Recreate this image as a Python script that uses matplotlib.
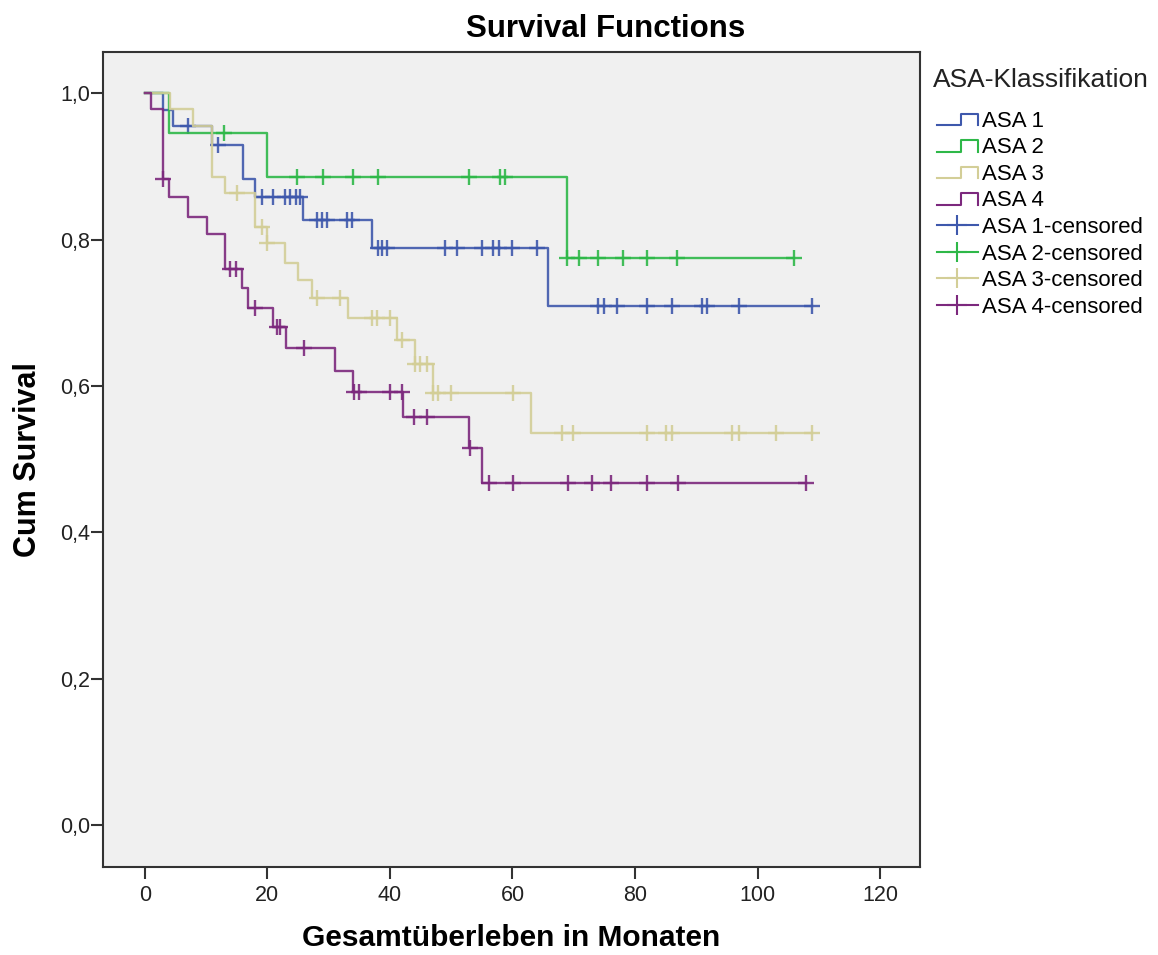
import numpy as np
import matplotlib
matplotlib.use("Agg")
import matplotlib.pyplot as plt
from matplotlib.lines import Line2D
from matplotlib.legend_handler import HandlerBase

plt.rcParams['font.family'] = ['Liberation Sans', 'DejaVu Sans']

groups = ['ASA 1', 'ASA 2', 'ASA 3', 'ASA 4']
colors = ['#3E58AC', '#2EB848', '#D3CE97', '#7C287D']

# event times (months) and survival level after each event
asa1_times = [3.0, 4.6, 11.0, 16.1, 18.0, 25.9, 37.0, 65.8]
asa1_surv = [0.977, 0.955, 0.929, 0.882, 0.858, 0.827, 0.789, 0.709]
asa1_cens = [7.1, 12.0, 19.2, 21.0, 22.9, 23.7, 24.6, 25.4, 28.1, 29.0, 29.8,
             33.0, 33.8, 38.0, 38.7, 39.6, 49.0, 51.0, 55.1, 56.8, 57.8, 59.9,
             64.0, 73.9, 74.9, 77.1, 82.0, 86.0, 90.9, 91.8, 97.0, 108.9]

asa2_times = [3.9, 20.0, 68.9]
asa2_surv = [0.945, 0.886, 0.775]
asa2_cens = [13.0, 24.9, 29.1, 34.0, 38.1, 52.9, 58.0, 58.8, 68.9, 70.9, 73.9,
             78.0, 82.0, 86.9, 106.0]

asa3_times = [4.2, 7.9, 11.0, 13.1, 18.0, 20.0, 22.9, 25.0, 27.3, 33.2, 41.2,
              44.1, 47.1, 63.0]
asa3_surv = [0.978, 0.955, 0.886, 0.864, 0.817, 0.795, 0.768, 0.745, 0.720,
             0.693, 0.663, 0.630, 0.590, 0.536]
asa3_cens = [15.1, 19.2, 20.0, 28.1, 31.9, 37.1, 37.9, 40.0, 42.0, 44.1, 44.9,
             46.1, 47.1, 47.9, 50.0, 60.1, 68.1, 69.9, 82.0, 85.1, 86.0, 95.9,
             97.0, 103.0, 108.9]

asa4_times = [1.1, 3.0, 4.0, 7.1, 10.2, 13.1, 15.9, 16.9, 21.0, 23.1, 31.1,
              34.0, 42.2, 52.9, 55.1]
asa4_surv = [0.978, 0.883, 0.858, 0.831, 0.808, 0.760, 0.734, 0.707, 0.681,
             0.652, 0.620, 0.592, 0.558, 0.515, 0.467]
asa4_cens = [3.0, 13.9, 14.9, 18.0, 21.5, 22.1, 26.0, 34.1, 34.9, 40.0, 42.0,
             44.0, 46.0, 53.0, 56.1, 60.1, 69.0, 73.0, 76.1, 82.0, 87.0, 107.9]

all_times = [asa1_times, asa2_times, asa3_times, asa4_times]
all_surv = [asa1_surv, asa2_surv, asa3_surv, asa4_surv]
all_cens = [asa1_cens, asa2_cens, asa3_cens, asa4_cens]


class HandlerStep(HandlerBase):
    def create_artists(self, legend, orig_handle, xdescent, ydescent,
                       width, height, fontsize, trans):
        x0, x1 = -xdescent, -xdescent + width
        yl, yh = -ydescent + 0.1 * height, -ydescent + 0.85 * height
        xm = x0 + 0.6 * width
        line = Line2D([x0, xm, xm, x1, x1], [yl, yl, yh, yh, yl],
                      color=orig_handle.get_color(), lw=1.5, transform=trans)
        return [line]


fig = plt.figure(figsize=(11.58, 9.55), dpi=100)
ax = fig.add_axes([0.089, 0.092, 0.7055, 0.8535])
ax.set_facecolor('#F0F0F0')

step_handles = []
cens_handles = []
for name, col, t, s, c in zip(groups, colors, all_times, all_surv, all_cens):
    x = np.concatenate([[0], t, [max(c)]])
    y = np.concatenate([[1.0], s, [s[-1]]])
    ax.step(x, y, where='post', color=col, lw=1.7, alpha=0.9)
    idx = np.searchsorted(t, c, side='right')
    cy = np.concatenate([[1.0], s])[idx]
    ax.plot(c, cy, ls='none', marker='+', ms=12, mew=1.7, color=col, alpha=0.9)
    step_handles.append(Line2D([], [], color=col, label=name))
    cens_handles.append(Line2D([], [], color=col, lw=1.5, marker='+', ms=14,
                               mew=1.5, label=name + '-censored'))

ax.set_xlim(-6.8, 126.5)
ax.set_ylim(-0.057, 1.056)
ax.set_xticks([0, 20, 40, 60, 80, 100, 120])
ax.set_yticks([0.0, 0.2, 0.4, 0.6, 0.8, 1.0])
ax.set_yticklabels(['0,0', '0,2', '0,4', '0,6', '0,8', '1,0'])
ax.tick_params(direction='out', length=8.5, width=1.5, color='#333333',
               labelsize=15.5, labelcolor='#222222')
ax.tick_params(axis='x', pad=4)
ax.tick_params(axis='y', pad=1)
for sp in ax.spines.values():
    sp.set_linewidth(1.5)
    sp.set_color('#333333')

fig.text(0.523, 0.970, 'Survival Functions', fontsize=22.5, fontweight='bold',
         ha='center', va='center')
ax.set_xlabel('Gesamtüberleben in Monaten', fontsize=21.5, fontweight='bold',
              labelpad=13)
ax.set_ylabel('Cum Survival', fontsize=22, fontweight='bold', labelpad=12)

fig.text(0.806, 0.916, 'ASA-Klassifikation', fontsize=19, ha='left',
         va='center', color='#222222')
handles = step_handles + cens_handles
hmap = {h: HandlerStep() for h in step_handles}
leg = fig.legend(handles=handles, handler_map=hmap, loc='upper left',
                 bbox_to_anchor=(0.809, 0.884), frameon=False, fontsize=16,
                 handlelength=1.85, handletextpad=0.2, labelspacing=0.25,
                 borderpad=0.0, borderaxespad=0.0)

fig.savefig('out.png', dpi=100)
